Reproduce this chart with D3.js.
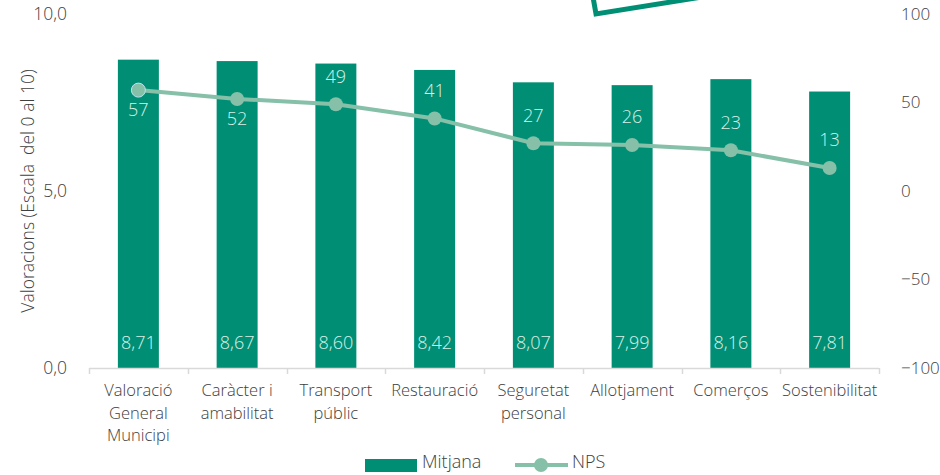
<!DOCTYPE html>
<html>
<head>
<meta charset="utf-8">
<script src="https://cdn.jsdelivr.net/npm/d3@7"></script>
<style>
	body { margin: 0; background: #fff; }
	svg text { font-family: "Segoe UI", "Open Sans", "Noto Sans", sans-serif; font-weight: 300; }
</style>
</head>
<body>
<div id="chart"></div>
<script>
// Categories and values
var categories = [
	["Valoració", "General", "Municipi"],
	["Caràcter i", "amabilitat"],
	["Transport", "públic"],
	["Restauració"],
	["Seguretat", "personal"],
	["Allotjament"],
	["Comerços"],
	["Sostenibilitat"]
];
var mitjana = [8.71, 8.67, 8.60, 8.42, 8.07, 7.99, 8.16, 7.81];
var nps = [57, 52, 49, 41, 27, 26, 23, 13];
// where Excel put each NPS label
var npsLabelPos = ["below", "below", "above", "above", "above", "above", "above", "above"];
var leftTicks = [0, 5, 10];
var rightTicks = [-100, -50, 0, 50, 100];

var width = 940, height = 475;
var margin = {top: 14, right: 61, bottom: 107, left: 89};
var barColor = "#008f74";
var lineColor = "#86c0a9";
var textColor = "#404040";

var svg = d3.select("#chart").append("svg")
	.attr("width", width)
	.attr("height", height);

// cut off logo at the top
svg.append("path")
	.attr("d", "M593,-3 L596,14 L702,-3")
	.attr("fill", "none")
	.attr("stroke", barColor)
	.attr("stroke-width", 5);

var x = d3.scaleBand()
	.domain(d3.range(categories.length))
	.range([margin.left, width - margin.right])
	.paddingInner(0.585)
	.paddingOuter(0.2925);
var xOuter = d3.scaleBand()
	.domain(d3.range(categories.length))
	.range([margin.left, width - margin.right]);
var yLeft = d3.scaleLinear().domain([0, 10]).range([height - margin.bottom, margin.top]);
var yRight = d3.scaleLinear().domain([-100, 100]).range([height - margin.bottom, margin.top]);

var fmt = d3.formatLocale({decimal: ",", thousands: ".", grouping: [3], currency: ["", "€"]});
var f1 = fmt.format(".1f"), f2 = fmt.format(".2f");

// left axis labels
svg.append("g").selectAll("text")
	.data(leftTicks).join("text")
	.attr("x", 67).attr("y", d => yLeft(d))
	.attr("dy", "0.35em")
	.attr("text-anchor", "end")
	.attr("font-size", 17.5)
	.attr("fill", textColor)
	.text(d => f1(d));

// right axis labels
svg.append("g").selectAll("text")
	.data(rightTicks).join("text")
	.attr("x", 901).attr("y", d => yRight(d))
	.attr("dy", "0.35em")
	.attr("text-anchor", "start")
	.attr("font-size", 17)
	.attr("fill", textColor)
	.text(d => fmt.format("d")(d));

// y title
svg.append("text")
	.attr("transform", "translate(34," + yLeft(5) + ") rotate(-90)")
	.attr("text-anchor", "middle")
	.attr("font-size", 17.5)
	.attr("fill", textColor)
	.attr("xml:space", "preserve")
	.text("Valoracions (Escala  del 0 al 10)");

// bars
svg.append("g").selectAll("rect")
	.data(mitjana).join("rect")
	.attr("x", (d, i) => x(i))
	.attr("y", d => yLeft(d))
	.attr("width", x.bandwidth())
	.attr("height", d => yLeft(0) - yLeft(d))
	.attr("fill", barColor);

// bar value labels
svg.append("g").selectAll("text")
	.data(mitjana).join("text")
	.attr("x", (d, i) => x(i) + x.bandwidth() / 2)
	.attr("y", yLeft(0) - 25)
	.attr("dy", "0.35em")
	.attr("text-anchor", "middle")
	.attr("font-size", 18)
	.attr("fill", "#d9f0e8")
	.text(d => f2(d));

// x axis
var axisY = yLeft(0);
svg.append("line")
	.attr("x1", margin.left).attr("x2", width - margin.right)
	.attr("y1", axisY + 0.5).attr("y2", axisY + 0.5)
	.attr("stroke", "#d9d9d9").attr("stroke-width", 1.5);
svg.append("g").selectAll("line")
	.data(d3.range(categories.length + 1)).join("line")
	.attr("x1", i => Math.round(margin.left + i * xOuter.step()) + 0.5)
	.attr("x2", i => Math.round(margin.left + i * xOuter.step()) + 0.5)
	.attr("y1", axisY).attr("y2", axisY + 6)
	.attr("stroke", "#d9d9d9").attr("stroke-width", 1.5);

var xl = svg.append("g").selectAll("text")
	.data(categories).join("text")
	.attr("x", (d, i) => x(i) + x.bandwidth() / 2)
	.attr("y", axisY + 28)
	.attr("text-anchor", "middle")
	.attr("font-size", 16.5)
	.attr("fill", textColor);
xl.selectAll("tspan")
	.data(d => d).join("tspan")
	.attr("x", function() { return d3.select(this.parentNode).attr("x"); })
	.attr("dy", (d, i) => i === 0 ? 0 : 22.5)
	.text(d => d);

// NPS line
var cx = i => x(i) + x.bandwidth() / 2;
svg.append("path")
	.datum(nps)
	.attr("d", d3.line().x((d, i) => cx(i)).y(d => yRight(d)))
	.attr("fill", "none")
	.attr("stroke", lineColor)
	.attr("stroke-width", 4);
svg.append("g").selectAll("circle")
	.data(nps).join("circle")
	.attr("cx", (d, i) => cx(i))
	.attr("cy", d => yRight(d))
	.attr("r", 7)
	.attr("fill", lineColor)
	.attr("stroke", (d, i) => i === 0 ? "#bfe3f5" : "none")
	.attr("stroke-width", 1);
svg.append("g").selectAll("text")
	.data(nps).join("text")
	.attr("x", (d, i) => cx(i))
	.attr("y", (d, i) => yRight(d) + (npsLabelPos[i] === "below" ? 20 : -28))
	.attr("dy", "0.35em")
	.attr("text-anchor", "middle")
	.attr("font-size", 18)
	.attr("fill", "#d9f0e8")
	.text(d => d);

// legend
var lg = svg.append("g");
lg.append("rect")
	.attr("x", 365).attr("y", 459).attr("width", 52).attr("height", 13)
	.attr("fill", barColor);
lg.append("text")
	.attr("x", 422).attr("y", 462).attr("dy", "0.35em")
	.attr("font-size", 18).attr("fill", textColor)
	.text("Mitjana");
lg.append("line")
	.attr("x1", 515).attr("x2", 568).attr("y1", 465).attr("y2", 465)
	.attr("stroke", lineColor).attr("stroke-width", 4);
lg.append("circle")
	.attr("cx", 541).attr("cy", 465).attr("r", 7)
	.attr("fill", lineColor);
lg.append("text")
	.attr("x", 572).attr("y", 462).attr("dy", "0.35em")
	.attr("font-size", 18).attr("fill", textColor)
	.text("NPS");
</script>
</body>
</html>
